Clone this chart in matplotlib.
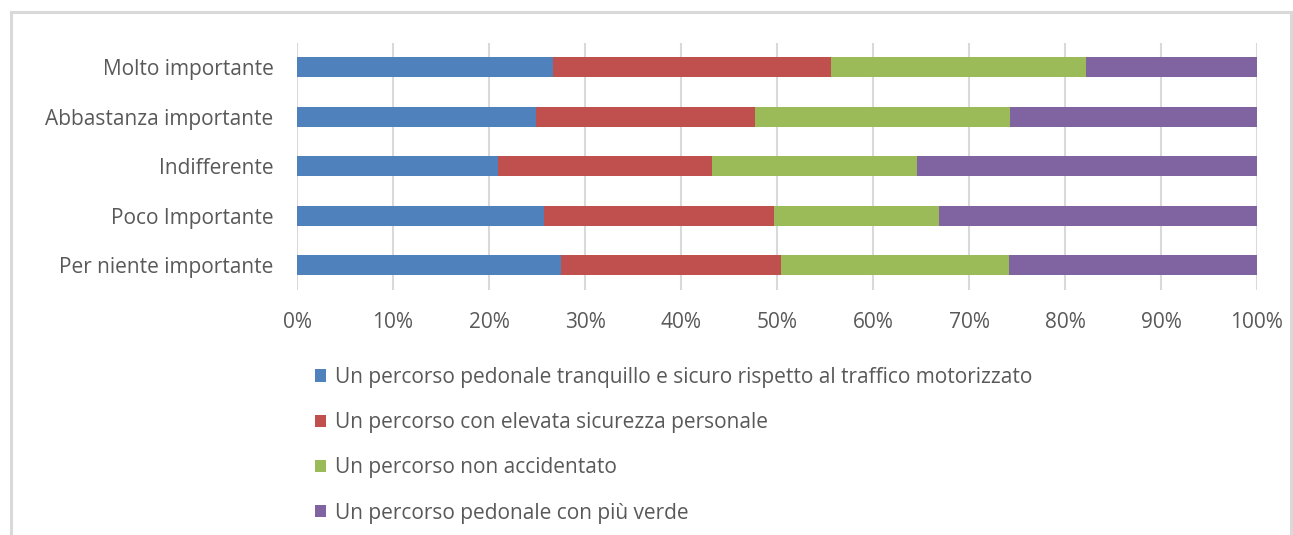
import matplotlib
matplotlib.use("Agg")
import matplotlib.pyplot as plt
from matplotlib.patches import Patch
from matplotlib.lines import Line2D
import numpy as np

categories = ["Molto importante", "Abbastanza importante", "Indifferente",
              "Poco Importante", "Per niente importante"]
series_names = [
    "Un percorso pedonale tranquillo e sicuro rispetto al traffico motorizzato",
    "Un percorso con elevata sicurezza personale",
    "Un percorso non accidentato",
    "Un percorso pedonale con più verde",
]
tranquillo = [26.7, 24.9, 20.9, 25.7, 27.5]
sicurezza = [28.9, 22.8, 22.3, 24.0, 22.9]
non_accidentato = [26.6, 26.6, 21.4, 17.2, 23.8]
verde = [17.8, 25.7, 35.4, 33.1, 25.8]
xticks = [0, 10, 20, 30, 40, 50, 60, 70, 80, 90, 100]
xtick_labels = [f"{t}%" for t in xticks]

colors = ["#4F81BD", "#C0504D", "#9BBB59", "#8064A2"]
text_color = "#595959"

plt.rcParams['font.family'] = ['Open Sans', 'DejaVu Sans']

W, H = 1293, 535
fig = plt.figure(figsize=(W / 100, H / 100), dpi=100)
fig.patch.set_facecolor("white")

ax = fig.add_axes([297 / W, 1 - 290 / H, 960 / W, 247.5 / H])

data = [tranquillo, sicurezza, non_accidentato, verde]
y = np.arange(len(categories))
left = np.zeros(len(categories))
for vals, col, name in zip(data, colors, series_names):
    ax.barh(y, vals, left=left, height=0.4, color=col, label=name, zorder=2)
    left = left + np.array(vals)

ax.set_xlim(0, 100)
ax.set_ylim(len(categories) - 0.5, -0.5)
ax.set_yticks(y)
ax.set_yticklabels(categories, fontsize=15, color=text_color)
ax.set_xticks(xticks)
ax.set_xticklabels(xtick_labels, fontsize=15, color=text_color)
ax.tick_params(axis='y', length=0, pad=17)
ax.tick_params(axis='x', length=0, pad=16)
ax.grid(axis='x', color="#d9d9d9", linewidth=1.5, zorder=0)
ax.set_axisbelow(True)
for s in ax.spines.values():
    s.set_visible(False)

handles = [Patch(facecolor=c, edgecolor='none') for c in colors]
fig.legend(handles, series_names, loc='upper left',
           bbox_to_anchor=(315 / W, 1 - 367 / H), frameon=False,
           fontsize=15, labelcolor=text_color, handlelength=0.55,
           handleheight=0.55, handletextpad=0.4, labelspacing=1.16,
           borderpad=0, borderaxespad=0)

# outer frame (left, top, right)
bc = "#d9d9d9"
fig.add_artist(Line2D([11 / W, 11 / W], [0, 1 - 11.5 / H], color=bc, lw=2.2,
                      transform=fig.transFigure))
fig.add_artist(Line2D([11 / W, 1290.5 / W], [1 - 11.5 / H, 1 - 11.5 / H], color=bc,
                      lw=2.2, transform=fig.transFigure))
fig.add_artist(Line2D([1290.5 / W, 1290.5 / W], [0, 1 - 11.5 / H], color=bc, lw=2.2,
                      transform=fig.transFigure))

fig.savefig("out.png", dpi=100, facecolor="white")
